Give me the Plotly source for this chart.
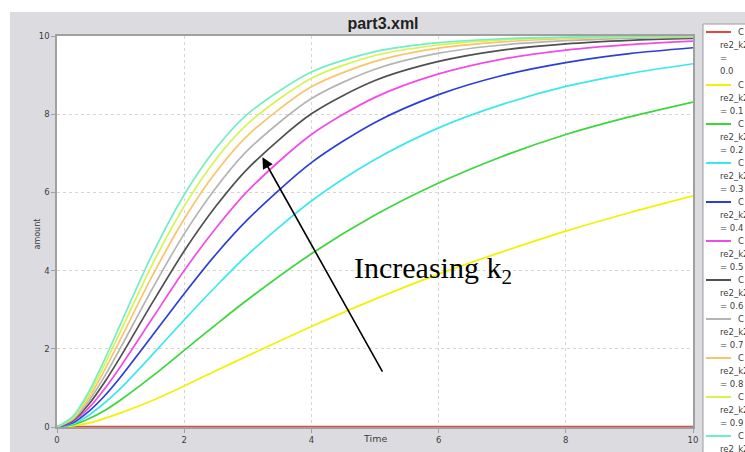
"""
part3.xml - amount of C over time for a sweep of re2_k2

Rebuilds the simulator plot (grey frame, dotted grid, side legend)
with an arrow marking the direction of increasing k2.
"""

import plotly.graph_objects as go


# Sampled time points (s)
TIME = [0, 0.25, 0.5, 0.75, 1, 1.5, 2, 2.5, 3, 4, 5, 6, 7, 8, 9, 10]

# Amount of C for each value of re2_k2
C_K2_00 = [0, 0, 0, 0, 0, 0, 0, 0, 0, 0, 0, 0, 0, 0, 0, 0]
C_K2_01 = [0, 0.03, 0.10, 0.22, 0.36, 0.68, 1.05, 1.44, 1.82, 2.57, 3.27, 3.91, 4.48, 5.01, 5.48, 5.91]
C_K2_02 = [0, 0.06, 0.21, 0.42, 0.69, 1.30, 1.96, 2.62, 3.26, 4.43, 5.42, 6.24, 6.92, 7.48, 7.93, 8.31]
C_K2_03 = [0, 0.08, 0.30, 0.62, 0.99, 1.85, 2.74, 3.60, 4.41, 5.78, 6.84, 7.65, 8.25, 8.71, 9.04, 9.29]
C_K2_04 = [0, 0.11, 0.40, 0.80, 1.28, 2.34, 3.41, 4.42, 5.31, 6.76, 7.79, 8.50, 8.99, 9.32, 9.55, 9.70]
C_K2_05 = [0, 0.14, 0.49, 0.98, 1.55, 2.78, 4.00, 5.09, 6.04, 7.48, 8.43, 9.03, 9.41, 9.64, 9.78, 9.87]
C_K2_06 = [0, 0.16, 0.58, 1.15, 1.80, 3.18, 4.50, 5.65, 6.61, 8.01, 8.86, 9.35, 9.64, 9.80, 9.89, 9.94]
C_K2_07 = [0, 0.19, 0.66, 1.30, 2.03, 3.54, 4.94, 6.12, 7.08, 8.40, 9.15, 9.56, 9.77, 9.88, 9.94, 9.97]
C_K2_08 = [0, 0.22, 0.74, 1.46, 2.25, 3.87, 5.32, 6.52, 7.46, 8.70, 9.35, 9.69, 9.85, 9.93, 9.97, 9.99]
C_K2_09 = [0, 0.24, 0.82, 1.60, 2.45, 4.16, 5.65, 6.85, 7.76, 8.92, 9.50, 9.77, 9.90, 9.96, 9.98, 9.99]
C_K2_10 = [0, 0.27, 0.90, 1.73, 2.64, 4.42, 5.94, 7.13, 8.01, 9.08, 9.60, 9.83, 9.93, 9.97, 9.99, 10.0]

K2_LABELS = ['0.0', '0.1', '0.2', '0.3', '0.4', '0.5', '0.6', '0.7', '0.8', '0.9', '1.0']
SERIES = [C_K2_00, C_K2_01, C_K2_02, C_K2_03, C_K2_04, C_K2_05,
          C_K2_06, C_K2_07, C_K2_08, C_K2_09, C_K2_10]

# Line colours, same order as K2_LABELS
COLORS = [
    '#e8453c',  # 0.0 - red
    '#f2f200',  # 0.1 - yellow
    '#3ad63a',  # 0.2 - green
    '#3ae8ee',  # 0.3 - cyan
    '#2b3fd8',  # 0.4 - blue
    '#f24ae6',  # 0.5 - magenta
    '#505050',  # 0.6 - dark grey
    '#b4b4b4',  # 0.7 - light grey
    '#f8c46c',  # 0.8 - light orange
    '#d4f550',  # 0.9 - yellow green
    '#70eec4',  # 1.0 - aquamarine
]

# Page geometry (pixels); body margin is removed in the page so the
# figure fills the window exactly
W, H = 745, 452
ML, MR, MT, MB = 57, 52, 36, 25
FRAME_GREY = '#dcdce0'
TICK_FONT = dict(family='DejaVu Sans', size=8.5, color='#3c3c3c')


def px(x):
    """Screen column -> paper x."""
    return (x - ML) / (W - ML - MR)


def py(y):
    """Screen row -> paper y."""
    return (H - MB - y) / (H - MT - MB)


fig = go.Figure()

for label, values, color in zip(K2_LABELS, SERIES, COLORS):
    fig.add_trace(go.Scatter(
        x=TIME,
        y=values,
        mode='lines',
        line=dict(color=color, width=2.6 if label == '0.0' else 1.7,
                  shape='spline', smoothing=0.8),
        name=f'C re2_k2 = {label}',
        showlegend=False
    ))

shapes = [
    # white page edge left and above the grey frame
    dict(type='rect', xref='paper', yref='paper', x0=px(-5), x1=px(10),
         y0=py(460), y1=py(-5), fillcolor='white', line=dict(width=0), layer='below'),
    dict(type='rect', xref='paper', yref='paper', x0=px(-5), x1=px(760),
         y0=py(12), y1=py(-5), fillcolor='white', line=dict(width=0), layer='below'),
    # legend panel
    dict(type='rect', xref='paper', yref='paper', x0=px(703), x1=px(770),
         y0=py(470), y1=py(24), fillcolor='white',
         line=dict(color='#9c9c9c', width=1), layer='below'),
]

annotations = []

# Hand-drawn legend: line sample + "C", then wrapped "re2_k2 = value"
legend_font = dict(family='DejaVu Sans', size=8.5, color='#404040')
for i, (label, color) in enumerate(zip(K2_LABELS, COLORS)):
    y0 = 32 if i == 0 else 85 + 39 * (i - 1)
    shapes.append(dict(type='line', xref='paper', yref='paper',
                       x0=px(706), x1=px(731), y0=py(y0), y1=py(y0),
                       line=dict(color=color, width=2)))
    annotations.append(dict(text='C', x=px(736), y=py(y0), xref='paper', yref='paper',
                            xanchor='left', yanchor='middle', showarrow=False,
                            font=legend_font))
    if i == 0:
        lines = ['re2_k2', '=', label]
    else:
        lines = ['re2_k2', f'= {label}']
    for j, txt in enumerate(lines):
        annotations.append(dict(text=txt, x=px(718), y=py(y0 + 13 * (j + 1)),
                                xref='paper', yref='paper', xanchor='left',
                                yanchor='middle', showarrow=False, font=legend_font))

# Axis titles
annotations.append(dict(text='amount', x=px(30), y=py(234), xref='paper', yref='paper',
                        textangle=-90, showarrow=False,
                        font=dict(family='DejaVu Sans', size=8, color='#3c3c3c')))
annotations.append(dict(text='Time', x=px(375), y=py(446), xref='paper', yref='paper',
                        showarrow=False,
                        font=dict(family='DejaVu Sans', size=9.5, color='#3c3c3c')))

# Arrow and caption
annotations.append(dict(x=3.23, y=6.9, ax=5.13, ay=1.38, xref='x', yref='y',
                        axref='x', ayref='y', text='', showarrow=True,
                        arrowhead=2, arrowsize=1.4, arrowwidth=1.6, arrowcolor='black'))
annotations.append(dict(text='Increasing k<sub>2</sub>', x=px(352), y=py(270),
                        xref='paper', yref='paper', xanchor='left', yanchor='middle',
                        showarrow=False,
                        font=dict(family='Liberation Serif', size=30, color='black')))

axis_style = dict(
    range=[0, 10],
    dtick=2,
    showgrid=True,
    gridcolor='#d6d6d6',
    griddash='dot',
    zeroline=False,
    showline=True,
    linecolor='#a0a0a0',
    linewidth=1.5,
    mirror=True,
    ticks='outside',
    ticklen=4,
    tickcolor='#a0a0a0',
    tickfont=TICK_FONT,
)

fig.update_layout(
    width=W,
    height=H,
    margin=dict(l=ML, r=MR, t=MT, b=MB, pad=0, autoexpand=False),
    paper_bgcolor=FRAME_GREY,
    plot_bgcolor='white',
    title=dict(text='<b>part3.xml</b>', x=383 / W, xref='container',
               xanchor='center', y=1 - 23 / H, yref='container',
               yanchor='middle',
               font=dict(family='Liberation Sans', size=16, color='#222222')),
    xaxis=axis_style,
    yaxis=axis_style,
    shapes=shapes,
    annotations=annotations,
)

# drop the default 8px body margin (and the scrollbars it causes)
fig.write_html(
    "out.html",
    config={'displayModeBar': False},
    post_script="document.body.style.margin='0';document.body.style.overflow='hidden';"
)
